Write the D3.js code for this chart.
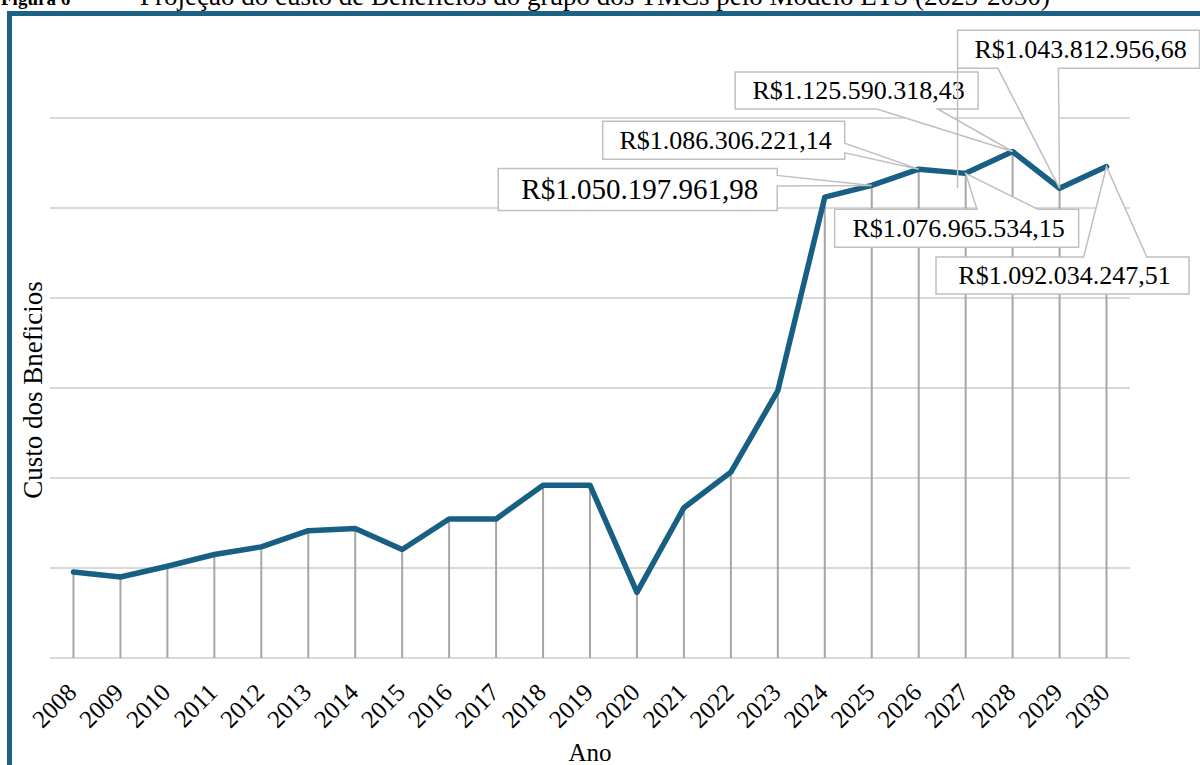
<!DOCTYPE html>
<html>
<head>
<meta charset="utf-8">
<script src="https://cdn.jsdelivr.net/npm/d3@7"></script>
<style>
  html, body { margin: 0; padding: 0; background: #fff; }
  svg { display: block; font-family: "Liberation Serif", "Times New Roman", serif; }
</style>
</head>
<body>
<svg id="chart" width="1200" height="765"></svg>
<script>
// ---------- data ----------
const years = [2008, 2009, 2010, 2011, 2012, 2013, 2014, 2015, 2016, 2017, 2018, 2019,
               2020, 2021, 2022, 2023, 2024, 2025, 2026, 2027, 2028, 2029, 2030];
const values = [191e6, 180e6, 204e6, 230e6, 247e6, 283e6, 288e6, 241e6, 309e6, 309e6, 384e6, 384e6,
                146e6, 334e6, 413e6, 594e6, 1024e6,
                1050197961.98, 1086306221.14, 1076965534.15, 1125590318.43, 1043812956.68, 1092034247.51];
const labeledYears = [2025, 2026, 2027, 2028, 2029, 2030];
const yTicks = [0, 2e8, 4e8, 6e8, 8e8, 1e9, 1.2e9];
const titleBold = "Figura 6";
const titleDash = "–";
const titleText = "Projeção do custo de Benefícios do grupo dos TMCs pelo Modelo ETS (2025-2030)";
const xTitle = "Ano";
const yTitle = "Custo dos Bneficios";

// ---------- layout / style (not data) ----------
const W = 1200, H = 765;
const plot = { left: 50, right: 1130, top: 118, bottom: 658 };
const lineColor = "#185f84";
const frameColor = "#1c6186";
// callout box placement relative to its point: centre offset, size, font size
const calloutLayout = {
  2025: { dx: -234, dy: 4,    w: 279, h: 42, fs: 29 },
  2026: { dx: -195, dy: -29,  w: 242, h: 38, fs: 26 },
  2027: { dx: -9,   dy: 55,   w: 244, h: 38, fs: 26 },
  2028: { dx: -156, dy: -61,  w: 243, h: 37, fs: 26 },
  2029: { dx: 19,   dy: -139, w: 242, h: 38, fs: 26 },
  2030: { dx: -44,  dy: 109,  w: 253, h: 37, fs: 26 }
};

const br = d3.formatLocale({ decimal: ",", thousands: ".", grouping: [3], currency: ["R$", ""] });
const fmt = br.format("$,.2f");

const data = years.map((y, i) => ({ year: y, value: values[i] }));

const svg = d3.select("#chart");

const x = d3.scalePoint().domain(years).range([plot.left, plot.right]).padding(0.5);
const y = d3.scaleLinear().domain([0, 1.2e9]).range([plot.bottom, plot.top]);

// gridlines
svg.append("g").selectAll("line").data(yTicks).join("line")
  .attr("x1", plot.left).attr("x2", plot.right)
  .attr("y1", d => y(d)).attr("y2", d => y(d))
  .attr("stroke", "#d9d9d9").attr("stroke-width", 2);

// drop lines
svg.append("g").selectAll("line").data(data).join("line")
  .attr("x1", d => x(d.year)).attr("x2", d => x(d.year))
  .attr("y1", d => y(d.value)).attr("y2", y(0))
  .attr("stroke", "#a6a6a6").attr("stroke-width", 2);

// series line
svg.append("path").datum(data)
  .attr("fill", "none").attr("stroke", lineColor).attr("stroke-width", 5.5)
  .attr("stroke-linejoin", "round").attr("stroke-linecap", "round")
  .attr("d", d3.line().x(d => x(d.year)).y(d => y(d.value)));

// x tick labels
svg.append("g").selectAll("text").data(years).join("text")
  .attr("transform", d => `translate(${x(d) + 4.5},${y(0) + 36}) rotate(-45)`)
  .attr("text-anchor", "end")
  .attr("font-size", 25).attr("fill", "#000")
  .text(d => d);

// axis titles
svg.append("text")
  .attr("x", (plot.left + plot.right) / 2).attr("y", 761)
  .attr("text-anchor", "middle").attr("font-size", 25).text(xTitle);
svg.append("text")
  .attr("transform", `translate(42,${(plot.top + plot.bottom) / 2 + 2}) rotate(-90)`)
  .attr("text-anchor", "middle").attr("font-size", 27).text(yTitle);

// callouts (wedgeRectCallout geometry)
function calloutPath(l, t, w, h, px, py) {
  const r = l + w, b = t + h, hc = l + w / 2, vc = t + h / 2;
  const dxPos = px - hc, dyPos = py - vc;
  const dq = dxPos * h / w;
  const dz = Math.abs(dyPos) - Math.abs(dq);
  const x1 = l + w * (dxPos > 0 ? 7 : 2) / 12, x2 = l + w * (dxPos > 0 ? 10 : 5) / 12;
  const y1 = t + h * (dyPos > 0 ? 7 : 2) / 12, y2 = t + h * (dyPos > 0 ? 10 : 5) / 12;
  const xl = dz > 0 ? l : (dxPos > 0 ? l : px);
  const yl = dz > 0 ? (dxPos > 0 ? y1 : py) : y1;
  const xt = dz > 0 ? (dyPos > 0 ? x1 : px) : x1;
  const yt = dz > 0 ? (dyPos > 0 ? t : py) : t;
  const xr = dz > 0 ? r : (dxPos > 0 ? px : r);
  const yr = dz > 0 ? y1 : (dxPos > 0 ? py : y1);
  const xb = dz > 0 ? (dyPos > 0 ? px : x1) : x1;
  const yb = dz > 0 ? (dyPos > 0 ? py : b) : b;
  return `M${l},${t}L${x1},${t}L${xt},${yt}L${x2},${t}L${r},${t}L${r},${y1}L${xr},${yr}L${r},${y2}` +
         `L${r},${b}L${x2},${b}L${xb},${yb}L${x1},${b}L${l},${b}L${l},${y2}L${xl},${yl}L${l},${y1}Z`;
}

const labelData = data.filter(d => labeledYears.includes(d.year));
const cg = svg.append("g").selectAll("g").data(labelData).join("g");
cg.each(function(d) {
  const L = calloutLayout[d.year];
  const px = x(d.year), py = y(d.value);
  const cx = px + L.dx, cy = py + L.dy;
  const l = cx - L.w / 2, t = cy - L.h / 2;
  const g = d3.select(this);
  g.append("path")
    .attr("d", calloutPath(l, t, L.w, L.h, px, py))
    .attr("fill", "#fff").attr("stroke", "#bfbfbf").attr("stroke-width", 1.5);
  g.append("text")
    .attr("x", cx + 2).attr("y", cy).attr("dy", "0.34em")
    .attr("text-anchor", "middle").attr("font-size", L.fs).attr("fill", "#000")
    .text(fmt(d.value));
});

// frame (top and left edges visible)
svg.append("path")
  .attr("d", `M9.5,${H + 5}L9.5,13.5L${W + 5},13.5`)
  .attr("fill", "none").attr("stroke", frameColor).attr("stroke-width", 5);

// title (mostly cropped at top, as in the source figure)
svg.append("text").attr("x", 1).attr("y", 5)
  .attr("font-size", 19).attr("font-weight", "bold").text(titleBold);
svg.append("text").attr("x", 100).attr("y", 5)
  .attr("font-size", 27).text(titleDash);
svg.append("text").attr("x", 140).attr("y", 5)
  .attr("font-size", 27).text(titleText);
</script>
</body>
</html>
